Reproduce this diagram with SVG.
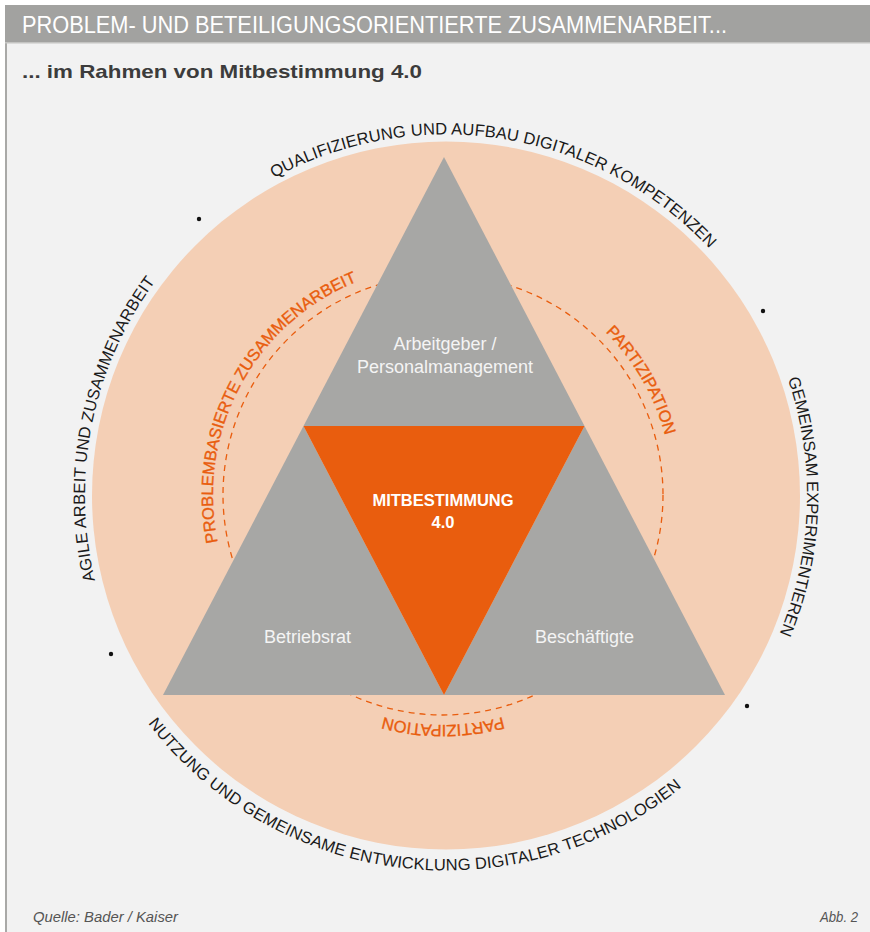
<svg xmlns="http://www.w3.org/2000/svg" xmlns:xlink="http://www.w3.org/1999/xlink" width="870" height="932" viewBox="0 0 870 932">
  <style>
    .hdr { font-family: "Liberation Sans", Arial, sans-serif; font-size: 23px; fill: #ffffff; }
    .sub { font-family: "Liberation Sans", Arial, sans-serif; font-size: 19px; font-weight: bold; fill: #3c3c3c; }
    .ring { font-family: "Liberation Sans", Arial, sans-serif; font-size: 16.5px; fill: #1a1a1a; letter-spacing: 0.1px; }
    .inner { font-family: "Liberation Sans", Arial, sans-serif; font-size: 16.5px; fill: #e95d0e; stroke: #e95d0e; stroke-width: 0.35px; }
    .node { font-family: "Liberation Sans", Arial, sans-serif; font-size: 18px; fill: #f4f4f4; text-anchor: middle; }
    .core { font-family: "Liberation Sans", Arial, sans-serif; font-size: 16.5px; font-weight: bold; fill: #ffffff; text-anchor: middle; }
    .foot { font-family: "Liberation Sans", Arial, sans-serif; font-size: 14px; font-style: italic; fill: #555555; }
    .tri { fill: #a7a7a5; }
    .dot { fill: #111111; }
  </style>
  <defs>
    <!-- clockwise circle for outer ring labels, midpoint at the top -->
    <path id="outerCW" d="M 446,856.5 A 361 361 0 1 1 446,134.5 A 361 361 0 1 1 446,856.5"/>
    <!-- counter-clockwise circle for the bottom ring label, midpoint at the bottom -->
    <path id="outerCCW" d="M 446,120.5 A 375 375 0 1 0 446,870.5 A 375 375 0 1 0 446,120.5"/>
    <!-- clockwise circle for the inner orange labels -->
    <path id="innerCW" d="M 443,725 A 230 230 0 1 1 443,265 A 230 230 0 1 1 443,725"/>
  </defs>

  <!-- page frame -->
  <rect x="0" y="0" width="870" height="932" fill="#ffffff"/>
  <rect x="5" y="5" width="865" height="927" fill="#f2f2f2"/>
  <rect x="5" y="43" width="2" height="889" fill="#a9a9a7"/>

  <g id="header">
    <rect x="5" y="5" width="865" height="38" fill="#a2a2a0"/>
    <rect x="5" y="42" width="865" height="1.5" fill="#c4c4c2"/>
    <text class="hdr" x="22" y="33" textLength="705" lengthAdjust="spacingAndGlyphs">PROBLEM- UND BETEILIGUNGSORIENTIERTE ZUSAMMENARBEIT...</text>
    <text class="sub" x="22" y="78" textLength="400" lengthAdjust="spacingAndGlyphs">... im Rahmen von Mitbestimmung 4.0</text>
  </g>

  <!-- outer disc -->
  <circle cx="446" cy="495.5" r="354" fill="#f4cfb5"/>

  <!-- separator dots on the ring -->
  <g id="ring-dots">
    <circle class="dot" cx="199" cy="219" r="2.2"/>
    <circle class="dot" cx="763" cy="311" r="2.2"/>
    <circle class="dot" cx="747" cy="706" r="2.2"/>
    <circle class="dot" cx="111" cy="654" r="2.2"/>
  </g>

  <g id="ring-labels">
    <text class="ring" text-anchor="middle" transform="rotate(9.2 446 495.5)"><textPath xlink:href="#outerCW" href="#outerCW" startOffset="50%">QUALIFIZIERUNG UND AUFBAU DIGITALER KOMPETENZEN</textPath></text>
    <text class="ring" text-anchor="middle" transform="rotate(91.84 446 495.5)" style="letter-spacing:-0.1px"><textPath xlink:href="#outerCW" href="#outerCW" startOffset="50%">GEMEINSAM EXPERIMENTIEREN</textPath></text>
    <text class="ring" text-anchor="middle" transform="rotate(281.4 446 495.5)" style="letter-spacing:0.15px"><textPath xlink:href="#outerCW" href="#outerCW" startOffset="50%">AGILE ARBEIT UND ZUSAMMENARBEIT</textPath></text>
    <text class="ring" text-anchor="middle" transform="rotate(6.8 446 495.5)" style="letter-spacing:0.15px"><textPath xlink:href="#outerCCW" href="#outerCCW" startOffset="50%">NUTZUNG UND GEMEINSAME ENTWICKLUNG DIGITALER TECHNOLOGIEN</textPath></text>
  </g>

  <g id="connectors">
    <circle cx="443" cy="495" r="220" fill="none" stroke="#e95d0e" stroke-width="1.3" stroke-dasharray="6 5"/>
  </g>

  <g id="inner-labels">
    <text class="inner" text-anchor="middle" transform="rotate(298.15 443 495)"><textPath xlink:href="#innerCW" href="#innerCW" startOffset="50%">PROBLEMBASIERTE ZUSAMMENARBEIT</textPath></text>
    <text class="inner" text-anchor="middle" transform="rotate(59.95 443 495)"><textPath xlink:href="#innerCW" href="#innerCW" startOffset="50%">PARTIZIPATION</textPath></text>
    <text class="inner" text-anchor="middle" transform="rotate(180 443 495)"><textPath xlink:href="#innerCW" href="#innerCW" startOffset="50%">PARTIZIPATION</textPath></text>
  </g>

  <g id="arbeitgeber">
    <polygon class="tri" points="444,157 584.5,426 303.5,426"/>
    <text class="node" x="445" y="350">Arbeitgeber /</text>
    <text class="node" x="445" y="373">Personalmanagement</text>
  </g>

  <g id="betriebsrat">
    <polygon class="tri" points="303.5,426 444,695 163,695"/>
    <text class="node" x="307.5" y="643">Betriebsrat</text>
  </g>

  <g id="beschaeftigte">
    <polygon class="tri" points="584.5,426 725,695 444,695"/>
    <text class="node" x="584.5" y="643">Beschäftigte</text>
  </g>

  <g id="mitbestimmung">
    <polygon points="303.5,426 584.5,426 444,695" fill="#e95d0e"/>
    <text class="core" x="443" y="506">MITBESTIMMUNG</text>
    <text class="core" x="443" y="528">4.0</text>
  </g>

  <g id="footer">
    <text class="foot" x="33" y="922" textLength="145" lengthAdjust="spacingAndGlyphs">Quelle: Bader / Kaiser</text>
    <text class="foot" x="858" y="922" text-anchor="end" textLength="38" lengthAdjust="spacingAndGlyphs">Abb. 2</text>
  </g>
</svg>
